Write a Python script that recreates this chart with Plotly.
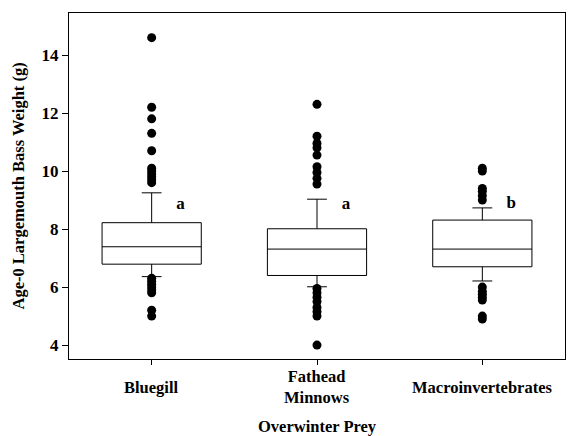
import plotly.graph_objects as go

categories = ["Bluegill", "Fathead<br>Minnows", "Macroinvertebrates"]
cat_pos = [0, 1, 2]
q1 = [6.79, 6.40, 6.70]
median = [7.39, 7.31, 7.31]
q3 = [8.22, 8.01, 8.31]
lower_fence = [6.36, 6.01, 6.21]
upper_fence = [9.25, 9.03, 8.73]
outliers_bluegill = [14.6, 12.2, 11.8, 11.3, 10.7, 10.1, 10.0, 9.9, 9.8, 9.7, 9.6,
                     6.3, 6.2, 6.1, 6.0, 5.9, 5.8, 5.2, 5.0]
outliers_fathead = [12.3, 11.2, 10.95, 10.8, 10.55, 10.15, 9.95, 9.75, 9.55,
                    5.95, 5.8, 5.65, 5.5, 5.3, 5.15, 5.0, 4.0]
outliers_macro = [10.1, 10.0, 9.4, 9.3, 9.15, 9.0,
                  6.0, 5.85, 5.75, 5.65, 5.55, 5.0, 4.9]
sig_letters = ["a", "a", "b"]
sig_y = [8.85, 8.85, 8.88]
tick_vals_y = [4, 6, 8, 10, 12, 14]

FONT = "Liberation Serif, Times New Roman, serif"
FS = 16.5

fig = go.Figure()
fig.add_trace(go.Box(
    x=cat_pos, q1=q1, median=median, q3=q3,
    lowerfence=lower_fence, upperfence=upper_fence,
    width=0.6, whiskerwidth=0.2,
    fillcolor="white", line=dict(color="black", width=1),
    boxpoints=False, showlegend=False,
))
for i, pts in enumerate([outliers_bluegill, outliers_fathead, outliers_macro]):
    fig.add_trace(go.Scatter(
        x=[cat_pos[i]] * len(pts), y=pts, mode="markers",
        marker=dict(color="black", size=9), showlegend=False,
    ))
fig.add_trace(go.Scatter(
    x=[p + 0.175 for p in cat_pos], y=sig_y, mode="text",
    text=["<b>" + s + "</b>" for s in sig_letters],
    textfont=dict(family=FONT, size=17, color="black"),
    textposition="middle center", showlegend=False,
))

annotations = []
for i, c in enumerate(categories):
    annotations.append(dict(
        x=cat_pos[i], y=-0.082, xref="x", yref="paper",
        text="<b>" + c + "</b>", showarrow=False, yanchor="middle",
        font=dict(family=FONT, size=FS, color="black"),
    ))
annotations.append(dict(
    x=0.5, y=-0.195, xref="paper", yref="paper", text="<b>Overwinter Prey</b>",
    showarrow=False, yanchor="middle", xanchor="center",
    font=dict(family=FONT, size=FS, color="black"),
))
annotations.append(dict(
    x=-51.5 / 496, y=0.5, xref="paper", yref="paper",
    text="<b>Age-0 Largemouth Bass Weight (g)</b>", textangle=-90,
    showarrow=False, xanchor="center", yanchor="middle",
    font=dict(family=FONT, size=FS, color="black"),
))

fig.update_layout(
    width=574, height=436,
    margin=dict(l=69, r=9, t=13, b=77),
    paper_bgcolor="white", plot_bgcolor="white",
    font=dict(family=FONT, color="black"),
    annotations=annotations,
    xaxis=dict(
        range=[-0.5, 2.5], tickvals=cat_pos, showticklabels=False,
        ticks="outside", ticklen=5, tickcolor="black",
        showline=True, linecolor="black", linewidth=1, mirror=True,
        showgrid=False, zeroline=False,
    ),
    yaxis=dict(
        range=[3.52, 15.45], tickvals=tick_vals_y,
        ticktext=["<b>%d</b>" % v for v in tick_vals_y],
        ticks="outside", ticklen=6, tickcolor="black",
        showline=True, linecolor="black", linewidth=1, mirror=True,
        showgrid=False, zeroline=False,
        tickfont=dict(family=FONT, size=17, color="black"),
    ),
)

fig.write_html("out.html")
